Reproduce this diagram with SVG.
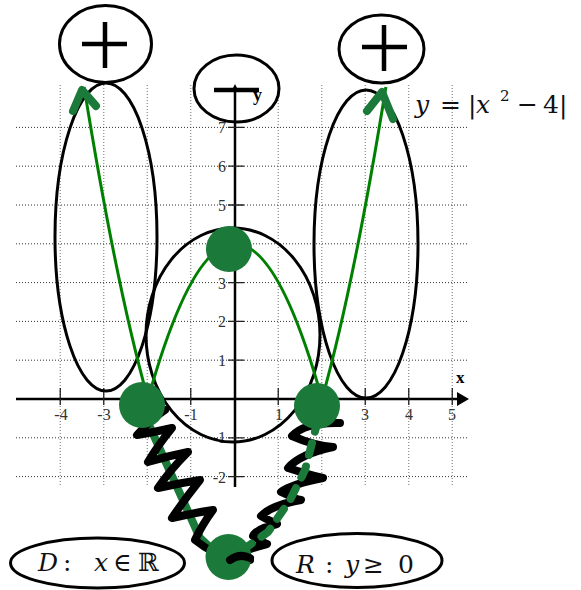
<svg xmlns="http://www.w3.org/2000/svg" width="581" height="590" viewBox="0 0 581 590">
<defs>
<style>
.gh{stroke:#333;stroke-width:1;stroke-dasharray:1 2;fill:none}
.gv{stroke:#888;stroke-width:1.2;stroke-dasharray:1 2;fill:none}
.ax{stroke:#000;stroke-width:2.5;fill:none}
.tk{stroke:#222;stroke-width:1.3;fill:none}
.lbl{font-family:"Liberation Serif","DejaVu Serif",serif;font-size:16px;fill:#333}
.ell{fill:none;stroke:#000;stroke-width:3}
.sign{stroke:#000;stroke-width:4.5;fill:none}
.math{font-family:"DejaVu Serif","Liberation Serif",serif;font-size:25px;fill:#111}
.it{font-style:italic}
.dot{fill:#1b7a3a}
.curve{fill:none;stroke:#008000;stroke-width:3}
.dg{fill:none;stroke:#1b7a3a;stroke-width:8;stroke-linecap:round;stroke-linejoin:round}
.zz{fill:none;stroke:#000;stroke-width:8;stroke-linecap:round;stroke-linejoin:round}
</style>
</defs>
<rect width="581" height="590" fill="#fff"/>
<g id="grid">
<path class="gv" d="M60.25,85V487M103.75,85V487M147.25,85V487M190.75,85V487M278.25,85V487M321.75,85V487M365.25,85V487M408.75,85V487M452.25,85V487"/>
<path class="gh" d="M16,127.4H469M16,166.2H469M16,205H469M16,243.8H469M16,282.6H469M16,321.4H469M16,360.2H469M16,437.8H469M16,476.6H469"/>
</g>
<g id="axes">
<line class="ax" x1="16" y1="399" x2="460" y2="399"/>
<polygon points="469,399 457,392 457,406" fill="#000"/>
<line class="ax" x1="235" y1="88" x2="235" y2="487"/>
<polygon points="235,84 231,92 239,92" fill="#000"/>
<path class="tk" d="M60.25,388V405M103.75,388V405M190.75,388V405M278.25,388V405M365.25,388V405M408.75,388V405M452.25,388V405"/>
<path class="tk" d="M228,127.4H244M228,166.2H244M228,205H244M228,282.6H244M228,321.4H244M228,360.2H244M228,437.8H244M228,476.6H244"/>
<text class="lbl" x="61" y="420" text-anchor="middle">-4</text>
<text class="lbl" x="104" y="420" text-anchor="middle">-3</text>
<text class="lbl" x="191" y="420" text-anchor="middle">-1</text>
<text class="lbl" x="279" y="420" text-anchor="middle">1</text>
<text class="lbl" x="365" y="420" text-anchor="middle">3</text>
<text class="lbl" x="409" y="420" text-anchor="middle">4</text>
<text class="lbl" x="452" y="420" text-anchor="middle">5</text>
<text class="lbl" x="226" y="133" text-anchor="end">7</text>
<text class="lbl" x="226" y="172" text-anchor="end">6</text>
<text class="lbl" x="226" y="211" text-anchor="end">5</text>
<text class="lbl" x="226" y="288.5" text-anchor="end">3</text>
<text class="lbl" x="226" y="327" text-anchor="end">2</text>
<text class="lbl" x="226" y="366" text-anchor="end">1</text>
<text class="lbl" x="226" y="443" text-anchor="end">-1</text>
<text class="lbl" x="226" y="483" text-anchor="end">-2</text>
<text x="456" y="383" font-family="Liberation Serif, serif" font-size="17" font-weight="bold" fill="#000">x</text>
<text x="253" y="101" font-family="Liberation Serif, serif" font-size="18" font-weight="bold" fill="#000">y</text>
</g>
<g id="ellipse-left"><ellipse class="ell" cx="106" cy="237" rx="51" ry="154"/></g>
<g id="ellipse-mid"><ellipse class="ell" cx="233" cy="335" rx="87" ry="107"/></g>
<g id="ellipse-right"><ellipse class="ell" cx="366" cy="244" rx="52" ry="154"/></g>
<g id="plus-left"><ellipse class="ell" cx="105.5" cy="44" rx="46" ry="38.5"/><path class="sign" d="M105,22V68M82,44H127"/></g>
<g id="minus-top"><ellipse class="ell" cx="236.5" cy="88.5" rx="42.5" ry="33.5"/><path stroke="#000" stroke-width="4.5" d="M214,90H259"/></g>
<g id="plus-right"><ellipse class="ell" cx="381.5" cy="49" rx="42.5" ry="34"/><path class="sign" d="M384,25V71M362,47H407"/></g>
<g id="equation-label">
<text class="math" y="113"><tspan class="it" x="415">y</tspan><tspan x="440">=</tspan><tspan x="468">|</tspan><tspan class="it" x="476">x</tspan><tspan x="500" y="101" font-size="15">2</tspan><tspan x="517" y="113">−</tspan><tspan x="543">4</tspan><tspan x="559">|</tspan></text>
</g>
<g id="connectors">
<path class="curve" d="M84.1,87 Q116,284.9 148,399 Q235,88.6 322,399 Q354,284.9 385.9,87"/>
<path class="dg" d="M73,111 L82,90 L96,106"/>
<path class="dg" d="M367,111 L382,92 L393,119"/>
<path class="dg" d="M140,405 L200,538 L215,552"/>
<path class="zz" d="M165,410 Q150,420 137,435 Q155,432 172,428 Q158,445 148,462 Q168,456 188,452 Q170,470 158,488 Q180,483 200,480 Q184,500 172,518 Q193,513 213,510 Q202,525 195,540 Q205,548 215,553"/>
<path class="zz" d="M340,423 Q305,422 292,436 Q315,446 333,447 Q300,454 288,468 Q310,475 323,478 Q292,484 281,492 Q296,499 301,500 Q272,505 261,516 Q272,522 277,524 Q256,529 253,536 Q262,542 267,544 Q247,549 237,556 Q244,561 250,560"/>
<path class="dg" stroke-linecap="round" stroke-dasharray="12 12" d="M318,420 L305,470 L290,500 L268,532 L240,552"/>
</g>
<g id="dot-left"><circle class="dot" cx="142" cy="405" r="23"/></g>
<g id="dot-top"><circle class="dot" cx="229" cy="249" r="23"/></g>
<g id="dot-right"><circle class="dot" cx="317" cy="406" r="23"/></g>
<g id="dot-bottom"><circle class="dot" cx="228.5" cy="557" r="23"/><path class="zz" stroke-width="7" d="M230,560 Q240,553 250,558"/></g>
<g id="domain">
<ellipse class="ell" cx="97.5" cy="563" rx="87" ry="25"/>
<text class="math" y="571"><tspan class="it" x="38">D</tspan><tspan x="63">:</tspan><tspan class="it" x="94">x</tspan><tspan x="113">∈</tspan><tspan x="138">ℝ</tspan></text>
</g>
<g id="range">
<ellipse class="ell" cx="357" cy="560.5" rx="85" ry="27"/>
<text class="math" y="573"><tspan class="it" x="296">R</tspan><tspan x="325">:</tspan><tspan class="it" x="345">y</tspan><tspan x="363">≥</tspan><tspan x="398">0</tspan></text>
</g>
</svg>
